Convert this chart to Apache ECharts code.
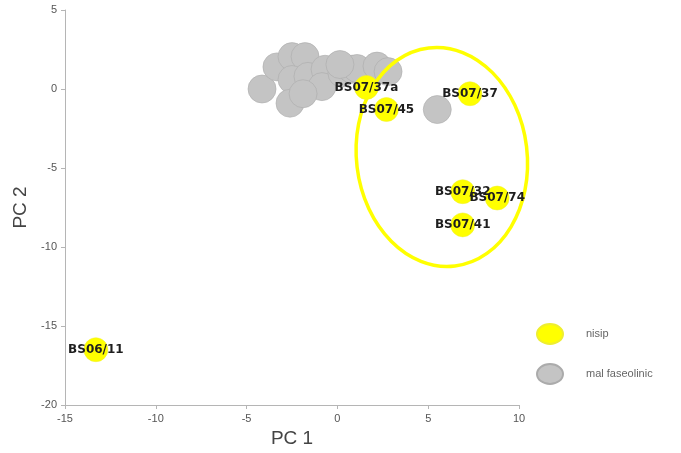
<!DOCTYPE html>
<html>
<head>
<meta charset="utf-8">
<script src="https://cdn.jsdelivr.net/npm/echarts@6/dist/echarts.min.js"></script>
<style>html,body{margin:0;padding:0;background:#fff;}#c{width:681px;height:453px;}</style>
</head>
<body>
<div id="c"></div>
<script>
// Sand (nisip) samples
const sandNames = ['BS06/11', 'BS07/37a', 'BS07/45', 'BS07/37', 'BS07/32', 'BS07/74', 'BS07/41'];
const sandPC1 = [-13.3, 1.6, 2.7, 7.3, 6.9, 8.8, 6.9];
const sandPC2 = [-16.5, 0.1, -1.3, -0.3, -6.5, -6.9, -8.6];
// Faseolinic mud samples
const mudPC1 = [-4.15, -3.33, -2.5, -1.78, -2.5, -1.62, -2.61, -0.68, -0.85, -1.89, 0.25, 0.8, 1.08, 2.18, 2.79, 0.14, 5.5];
const mudPC2 = [0.0, 1.4, 2.05, 2.05, 0.6, 0.8, -0.9, 1.25, 0.15, -0.3, 1.0, 1.25, 1.3, 1.45, 1.1, 1.55, -1.3];
// Highlight ellipse (data units): centre x, centre y, radius x, radius y
const ellipseDef = [5.75, -4.3, 4.7, 6.95];
const xTicks = [-15, 10, 5];
const yTicks = [-20, 5, 5];
const legendNames = ['nisip', 'mal faseolinic'];

const chart = echarts.init(document.getElementById('c'));
const axisCommon = {
  axisLine: {show: true, onZero: false, lineStyle: {color: '#b5b5b5', width: 1}},
  axisTick: {show: true, length: 4, lineStyle: {color: '#b5b5b5'}},
  splitLine: {show: false},
  axisLabel: {color: '#555', fontSize: 11, fontFamily: 'Liberation Sans'},
  nameTextStyle: {color: '#444', fontSize: 19, fontFamily: 'Liberation Sans'}
};
chart.setOption({
  animation: false,
  grid: {left: 65, top: 10, right: 162, bottom: 47},
  xAxis: Object.assign({}, axisCommon, {
    type: 'value', min: xTicks[0], max: xTicks[1], interval: xTicks[2],
    name: 'PC 1', nameLocation: 'middle', nameGap: 24
  }),
  yAxis: Object.assign({}, axisCommon, {
    type: 'value', min: yTicks[0], max: yTicks[1], interval: yTicks[2],
    name: 'PC 2', nameLocation: 'middle', nameGap: 24
  }),
  legend: {
    orient: 'vertical', left: 536, top: 323, padding: 0, itemWidth: 26, itemHeight: 20, itemGap: 18,
    icon: 'path://M0,10 A13,10 0 1,1 26,10 A13,10 0 1,1 0,10 Z',
    textStyle: {color: '#666', fontSize: 11, fontFamily: 'Liberation Sans', padding: [0, 0, 0, 18]},
    data: legendNames
  },
  series: [
    {
      name: legendNames[1], type: 'scatter', symbolSize: 28, z: 2,
      itemStyle: {color: '#c4c4c4', borderColor: '#ababab', borderWidth: 0.6, opacity: 1},
      data: mudPC1.map((x, i) => [x, mudPC2[i]])
    },
    {
      type: 'custom', z: 3, silent: true,
      data: [ellipseDef],
      renderItem: function (params, api) {
        const c = api.coord([api.value(0), api.value(1)]);
        const e = api.coord([api.value(0) + api.value(2), api.value(1) - api.value(3)]);
        return {
          type: 'ellipse',
          x: c[0], y: c[1], rotation: 0.12,
          shape: {cx: 0, cy: 0, rx: e[0] - c[0], ry: e[1] - c[1]},
          style: {fill: 'none', stroke: '#ffff00', lineWidth: 3.5}
        };
      }
    },
    {
      name: legendNames[0], type: 'scatter', symbolSize: 24, z: 4,
      itemStyle: {color: '#ffff00', borderColor: '#eeee30', borderWidth: 0.5, opacity: 1},
      label: {
        show: true, position: 'inside', offset: [2, 3],
        color: '#1e1e1e', fontWeight: 'bold', fontSize: 12, fontFamily: 'DejaVu Sans',
        formatter: p => sandNames[p.dataIndex]
      },
      labelLayout: {hideOverlap: false},
      data: sandPC1.map((x, i) => [x, sandPC2[i]])
    }
  ]
});
</script>
</body>
</html>
